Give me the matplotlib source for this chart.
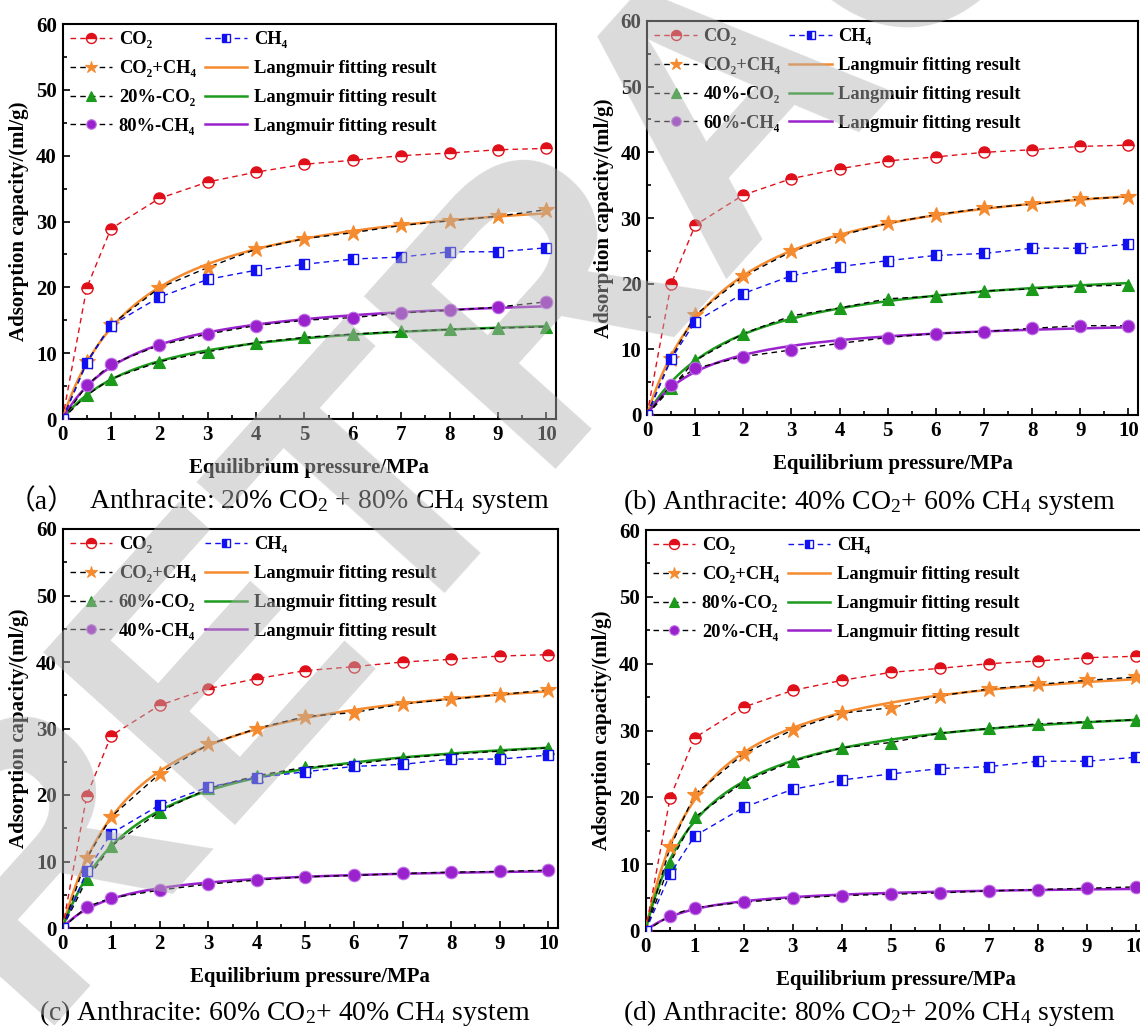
import numpy as np
import matplotlib
matplotlib.use("Agg")
import matplotlib.pyplot as plt
from matplotlib.ticker import MultipleLocator

plt.rcParams["font.family"] = ["Liberation Serif", "DejaVu Serif"]
plt.rcParams["mathtext.fontset"] = "custom"
plt.rcParams["mathtext.rm"] = "Liberation Serif"
plt.rcParams["mathtext.bf"] = "Liberation Serif:bold"
plt.rcParams["mathtext.default"] = "regular"

# equilibrium pressure, MPa
PRESSURE = [0, 0.5, 1, 2, 3, 4, 5, 6, 7, 8, 9, 10]

# pure gas isotherms (same in every panel), ml/g
CO2_PURE = [0, 19.9, 28.9, 33.5, 36.0, 37.5, 38.7, 39.3, 40.0, 40.4, 40.9, 41.1]
CH4_PURE = [0, 8.5, 14.2, 18.5, 21.2, 22.6, 23.5, 24.3, 24.6, 25.4, 25.4, 26.0]

# binary mixture runs: total, CO2 part, CH4 part
MIX_A = [0, 8.6, 14.3, 19.9, 23.0, 25.8, 27.4, 28.3, 29.4, 30.1, 30.8, 31.8]
CO2_A = [0, 3.6, 6.1, 8.7, 10.2, 11.6, 12.4, 12.9, 13.3, 13.6, 13.8, 14.0]
CH4_A = [0, 5.1, 8.3, 11.2, 12.9, 14.2, 15.0, 15.4, 16.1, 16.5, 17.0, 17.8]

MIX_B = [0, 8.6, 15.2, 21.1, 24.9, 27.3, 29.2, 30.5, 31.5, 32.1, 32.9, 33.2]
CO2_B = [0, 4.1, 8.3, 12.4, 15.1, 16.3, 17.7, 18.1, 18.9, 19.2, 19.6, 19.8]
CH4_B = [0, 4.6, 7.1, 8.9, 9.9, 10.9, 11.8, 12.4, 12.7, 13.2, 13.6, 13.6]

MIX_C = [0, 10.5, 16.7, 23.2, 27.6, 30.0, 31.8, 32.4, 33.7, 34.4, 35.1, 35.8]
CO2_C = [0, 7.3, 12.3, 17.5, 21.0, 22.9, 24.2, 24.6, 25.6, 26.1, 26.6, 27.1]
CH4_C = [0, 3.2, 4.5, 5.7, 6.6, 7.2, 7.7, 7.9, 8.2, 8.4, 8.5, 8.7]

MIX_D = [0, 12.5, 20.4, 26.5, 30.1, 32.6, 33.4, 35.2, 36.2, 36.9, 37.5, 38.0]
CO2_D = [0, 10.2, 17.0, 22.3, 25.4, 27.4, 28.2, 29.6, 30.3, 31.0, 31.3, 31.6]
CH4_D = [0, 2.3, 3.5, 4.3, 4.9, 5.3, 5.5, 5.7, 6.0, 6.2, 6.4, 6.6]

CO2_SHARE = ["20", "40", "60", "80"]
CH4_SHARE = ["80", "60", "40", "20"]
CAPTIONS = [
    "Anthracite: 20% CO$_2$ + 80% CH$_4$ system",
    "(b) Anthracite: 40% CO$_2$+ 60% CH$_4$ system",
    "(c) Anthracite: 60% CO$_2$+ 40% CH$_4$ system",
    "(d) Anthracite: 80% CO$_2$+ 20% CH$_4$ system",
]

RED = "#e0101a"
BLUE = "#1010f0"
ORANGE = "#f58a2e"
GREEN = "#1c9a1c"
PURPLE = "#9a22cc"


def langmuir_fit(p, v):
  # least squares fit of V = VL*P/(PL+P), grid over PL
  p = np.asarray(p, float)
  v = np.asarray(v, float)
  best = None
  for pl in np.linspace(0.05, 8, 1600):
    f = p / (pl + p)
    vl = (v * f).sum() / (f * f).sum()
    err = ((v - vl * f) ** 2).sum()
    if best is None or err < best[0]:
      best = (err, vl, pl)
  return best[1], best[2]


W, H = 1140, 1026
fig = plt.figure(figsize=(W / 100, H / 100), dpi=100)

# axes boxes in pixels: left, top, right, bottom
boxes = [(62.5, 24, 556, 419), (647, 21, 1138, 415),
         (62.5, 529, 558, 928), (645.5, 530, 1146, 931)]
panels = [(MIX_A, CO2_A, CH4_A), (MIX_B, CO2_B, CH4_B),
          (MIX_C, CO2_C, CH4_C), (MIX_D, CO2_D, CH4_D)]

p_fine = np.linspace(0, 10, 300)
dash = (0, (4, 3))

for i, (box, series) in enumerate(zip(boxes, panels)):
  l, t, r, b = box
  ax = fig.add_axes([l / W, 1 - b / H, (r - l) / W, (b - t) / H])
  mix, co2, ch4 = series

  h_co2, = ax.plot(PRESSURE, CO2_PURE, ls=dash, color=RED, lw=1.0,
                   marker="o", ms=8, fillstyle="top", mfc=RED,
                   markerfacecoloralt="white", mec=RED, mew=1.0,
                   label="CO₂", zorder=6)
  h_ch4, = ax.plot(PRESSURE, CH4_PURE, ls=dash, color=BLUE, lw=1.0,
                   marker="s", ms=7, fillstyle="left", mfc=BLUE,
                   markerfacecoloralt="white", mec=BLUE, mew=1.0,
                   label="CH₄", zorder=6)

  handles_pts = []
  handles_fit = []
  names = ["CO₂+CH₄", CO2_SHARE[i] + "%-CO₂", CH4_SHARE[i] + "%-CH₄"]
  styles = [("*", 12, ORANGE, ORANGE), ("^", 9, GREEN, GREEN),
            ("o", 9, PURPLE, "#c070e8")]
  for vals, name, (mk, ms, col, edge) in zip([mix, co2, ch4], names, styles):
    vl, pl = langmuir_fit(PRESSURE, vals)
    hf, = ax.plot(p_fine, vl * p_fine / (pl + p_fine), color=col, lw=1.8,
                  label="Langmuir fitting result", zorder=3)
    ax.plot(PRESSURE, vals, ls=dash, color="black", lw=1.0, zorder=4)
    ax.plot(PRESSURE[1:], vals[1:], ls="none", marker=mk, ms=ms, mfc=col,
            mec=edge, mew=0.8, zorder=5)
    handles_fit.append(hf)
    # legend entry: black dashes with coloured marker
    proxy, = ax.plot([], [], ls=dash, color="black", lw=1.0, marker=mk,
                     ms=ms * 0.85, mfc=col, mec=edge, mew=0.8, label=name)
    handles_pts.append(proxy)

  handles = [h_co2] + handles_pts + [h_ch4] + handles_fit
  ax.legend(handles=handles, ncol=2, loc="upper left",
            frameon=False, prop={"weight": "bold", "size": 13.3},
            handlelength=2.3, handletextpad=0.35, columnspacing=0.5,
            labelspacing=0.64, borderaxespad=0.1, borderpad=0.3,
            markerscale=0.9)

  ax.set_xlim(0, 10.2)
  ax.set_ylim(0, 60)
  ax.xaxis.set_major_locator(MultipleLocator(1))
  ax.xaxis.set_minor_locator(MultipleLocator(0.5))
  ax.yaxis.set_major_locator(MultipleLocator(10))
  ax.yaxis.set_minor_locator(MultipleLocator(5))
  ax.tick_params(which="both", direction="in", width=1.2)
  ax.tick_params(which="major", length=5, labelsize=15, pad=4)
  ax.tick_params(which="minor", length=3)
  for lab in ax.get_xticklabels() + ax.get_yticklabels():
    lab.set_fontweight("bold")
  for sp in ax.spines.values():
    sp.set_linewidth(1.5)
  ax.set_xlabel("Equilibrium pressure/MPa", fontsize=15, fontweight="bold",
                labelpad=10)
  ax.set_ylabel("Adsorption capacity/(ml/g)", fontsize=15,
                fontweight="bold", labelpad=5)

# captions
fig.text(8 / W, 1 - 502 / H, "（a）", fontsize=20,
         family=["Liberation Serif", "Noto Sans CJK SC"], va="center",
         ha="left")
fig.text(89 / W, 1 - 502 / H, CAPTIONS[0], fontsize=20, va="center",
         ha="left")
fig.text(870 / W, 1 - 502 / H, CAPTIONS[1], fontsize=20, va="center",
         ha="center")
fig.text(285 / W, 1 - 1013 / H, CAPTIONS[2], fontsize=20, va="center",
         ha="center")
fig.text(870 / W, 1 - 1013 / H, CAPTIONS[3], fontsize=20, va="center",
         ha="center")

# retraction watermark
fig.text(30 / W, 1 - 1025 / H, "RETRACTED", fontsize=270, fontweight="bold",
         family="Liberation Sans", color=(0.7, 0.7, 0.7), alpha=0.47,
         rotation=48, rotation_mode="anchor", ha="left", va="baseline",
         zorder=20)

fig.savefig("out.png", dpi=100)
